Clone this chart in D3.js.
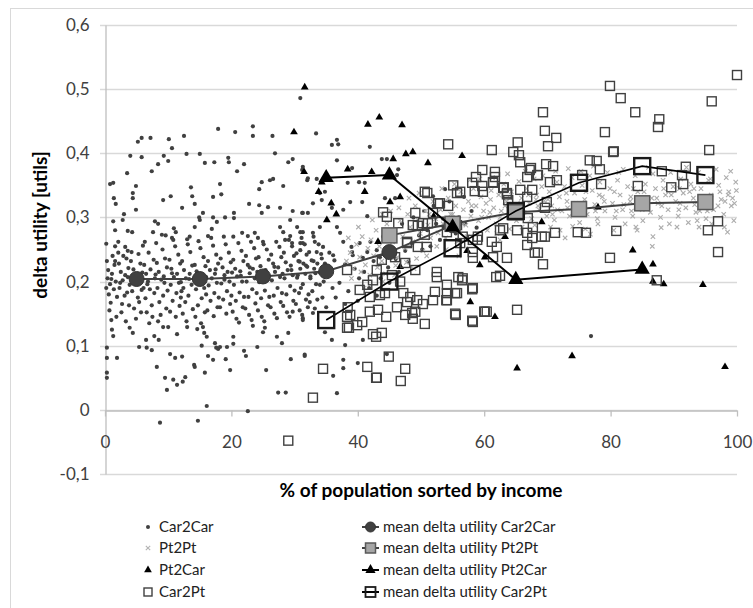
<!DOCTYPE html>
<html>
<head>
<meta charset="utf-8">
<script src="https://cdn.jsdelivr.net/npm/d3@7"></script>
<style>
body { margin: 0; background: #fff; }
text { font-family: Lato, "Open Sans", sans-serif; }
</style>
</head>
<body>
<div id="chart"></div>
<script>
// y axis ticks
const yTicks = [-0.1, 0, 0.1, 0.2, 0.3, 0.4, 0.5, 0.6]
const xTicks = [0, 20, 40, 60, 80, 100]

// scatter series [x %, delta utility]
const car2car = [
[17.9,.438],[20.6,.433],[23.4,.442],[23.4,.427],[26.5,.427],[12.5,.427],[7.2,.424],[5.8,.424],[5.2,.418],[10.1,.422],[10.6,.408],[4.0,.396],[5.8,.394],[9.3,.396],[10.0,.388],[12.9,.399],[15.0,.399],[8.4,.383],[7.4,.372],[3.5,.369],[15.8,.385],[17.3,.386],[19.5,.393],[19.6,.386],[20.9,.372],[22.0,.383],[26.9,.4],[29.0,.386],[29.7,.391],[0.8,.352],[1.3,.354],[4.9,.349],[1.4,.33],[1.7,.321],[4.4,.338],[4.4,.33],[4.9,.312],[9.2,.327],[10.4,.333],[12.2,.315],[13.6,.347],[13.8,.333],[14.2,.321],[17.1,.332],[18.2,.352],[18.4,.336],[24.4,.344],[24.8,.355],[26.1,.358],[26.6,.36],[28.2,.349],[22.8,.321],[24.4,.319],[25.8,.316],[24.8,.307],[27.7,.315],[29.7,.31],[31.3,.307],[32.0,.358],[1.3,.294],[2.8,.296],[3.0,.305],[1.6,.28],[7.9,.294],[8.4,.29],[3.6,.279],[4.3,.277],[0.2,.259],[1.6,.255],[3.2,.254],[2.1,.245],[14.9,.3],[15.0,.296],[15.5,.307],[17.1,.3],[17.7,.293],[19.0,.3],[20.4,.299],[20.4,.307],[14.2,.285],[16.9,.282],[7.6,.277],[9.0,.273],[10.9,.283],[11.2,.277],[13.4,.27],[10.6,.268],[16.3,.271],[20.3,.27],[21.7,.276],[22.6,.271],[23.7,.276],[24.2,.268],[25.0,.262],[27.7,.285],[28.2,.277],[29.3,.296],[30.4,.285],[30.9,.277],[29.3,.271],[28.5,.265],[29.6,.26],[30.9,.26],[31.3,.26],
[30.9,.486],[33.4,.431],[35.9,.413],[36.7,.421],[36.9,.414],[41.9,.41],[36.7,.389],[43.8,.391],[44.6,.391],[39.1,.377],[31.3,.379],[31.2,.374],[33.5,.36],[32.1,.361],[38.4,.354],[40.2,.355],[41.1,.354],[46.4,.375],[46.2,.366],[34.0,.338],[34.8,.34],[32.9,.322],[32.1,.307],[31.2,.307],[34.3,.327],[35.9,.315],[37.7,.312],[38.8,.324],[40.7,.324],[41.5,.302],[44.3,.33],[45.9,.33],[53.8,.344],[51.9,.333],[31.3,.277],[32.9,.276],[34.0,.285],[33.2,.262],[36.7,.285],[37.2,.276],[30.9,.249],[33.5,.246],[36.1,.241],[34.5,.254],[39.1,.246],[37.7,.262],[40.3,.26],[39.2,.241],[41.5,.246],[43.0,.249],[43.5,.238],[40.8,.237],
[38.0,.227],[39.5,.22],[41.0,.215],[42.5,.232],[40.2,.205],[37.1,.198],[36.0,.19],[38.5,.185],[41.8,.19],[43.6,.205],[44.8,.222],[46.0,.235],[47.5,.248],[48.5,.26],[49.7,.272],[51.0,.28],[52.4,.29],[53.5,.298],[50.2,.25],[48.0,.231],[46.5,.215],[45.0,.198],[43.0,.178],[40.0,.17],[38.0,.165],[36.5,.175],[35.0,.16],[33.6,.172],[32.2,.18],[31.0,.19],[34.0,.195],[32.5,.205],[30.5,.21],[31.8,.225],[33.0,.232],[36.3,.233],[35.5,.245],[39.0,.254],[42.0,.262],[44.0,.27],[45.5,.279],[47.0,.29],[48.8,.3],[50.5,.31],[52.0,.318],[54.5,.325],[56.0,.3],[57.0,.29],[58.0,.31],[55.5,.275],[53.0,.265],[51.5,.255],[56.8,.332],[58.8,.284],[76.9,.115],
[8.7,-.02],[14.7,-.017],[16.1,.006],[22.6,-.002],[27.4,.027],[28.6,.027],[0.3,.058],[0.3,.05],[9.5,.05],[10.8,.047],[11.4,.039],[12.3,.044],[12.7,.051],[9.8,.031],[8.2,.067],[14.1,.07],[14.2,.067],[15.8,.058],[19.8,.062],[25.5,.062],[0.3,.081],[1.9,.081],[10.3,.087],[11.1,.081],[12.2,.083],[16.3,.084],[17.1,.078],[19.1,.079],[22.0,.092],[22.3,.084],[29.4,.079],[31.6,.084],[0.3,.097],[5.4,.098],[6.6,.097],[7.4,.093],[15.3,.1],[17.4,.104],[17.6,.097],[17.9,.095],[18.2,.098],[19.3,.098],[20.3,.103],[24.1,.098],[20.3,.114],[27.2,.114],[28.0,.104],[29.0,.12],[1.1,.125],[1.3,.115],[6.5,.109],[7.8,.115],[8.5,.109],[11.4,.118],[13.0,.129],[14.6,.126],[15.5,.129],[15.7,.12],[16.1,.114],[9.2,.129],[10.0,.129],[23.4,.131],[25.0,.121],[25.3,.128],[31.3,.143],[29.7,.153],
[31.6,.086],[37.7,.078],[37.7,.065],[36.1,.053],[36.7,.026],[38.0,.101],[40.0,.073],[40.8,.109],[44.6,.087],[34.8,.121],[35.9,.109],[31.3,.14],[32.9,.151],[32.1,.16],
[0.3,.232],[0.5,.218],[0.4,.205],[0.8,.196],[0.6,.18],[0.9,.167],[1.2,.24],[1.5,.226],[1.1,.212],[1.7,.2],[1.4,.188],[1.9,.176],[0.7,.155],[1.8,.145],[1.0,.14],[1.6,.232],[0.2,.19],
[2.2,.228],[2.5,.215],[2.8,.202],[2.3,.19],[3.1,.178],[2.7,.165],[3.4,.236],[3.7,.221],[3.2,.21],[3.9,.195],[3.5,.183],[2.6,.152],[3.8,.163],[2.9,.24],[3.6,.248],[2.1,.262],[3.3,.138],[3.9,.128],
[4.1,.232],[4.5,.219],[4.8,.207],[4.3,.185],[5.2,.175],[5.6,.228],[5.9,.214],[5.0,.196],[5.4,.168],[4.6,.158],[5.8,.187],[4.2,.246],[5.3,.243],[5.7,.152],[4.9,.142],[6.0,.256],[4.4,.12],
[6.2,.226],[6.5,.212],[6.8,.2],[7.1,.188],[6.4,.174],[7.4,.163],[7.7,.234],[7.2,.219],[6.9,.245],[7.9,.205],[6.6,.152],[7.5,.145],[6.3,.262],[7.8,.182],[7.0,.135],[6.1,.19],
[8.2,.229],[8.5,.215],[8.9,.203],[8.3,.19],[9.2,.178],[9.5,.236],[9.8,.222],[9.1,.25],[8.6,.168],[9.7,.158],[8.8,.148],[9.4,.198],[9.9,.186],[8.1,.26],[9.6,.272],[8.4,.138],
[10.2,.234],[10.5,.22],[10.9,.207],[10.4,.195],[11.3,.182],[11.6,.242],[11.9,.228],[11.1,.255],[10.7,.17],[11.8,.162],[10.3,.153],[11.4,.212],[11.7,.198],[10.8,.265],[11.2,.145],[12.0,.175],
[12.2,.232],[12.5,.218],[12.8,.205],[12.4,.19],[13.2,.178],[13.5,.246],[13.8,.225],[13.1,.258],[12.7,.168],[13.9,.157],[12.3,.15],[13.4,.212],[13.7,.195],[12.9,.138],[13.0,.266],[12.1,.185],
[14.2,.226],[14.6,.213],[14.9,.2],[14.4,.188],[15.3,.174],[15.6,.238],[15.9,.224],[15.1,.252],[14.7,.163],[15.8,.152],[14.3,.145],[15.4,.206],[15.7,.19],[14.8,.263],[15.2,.135],[16.0,.18],
[16.3,.232],[16.6,.218],[16.9,.205],[16.4,.194],[17.3,.182],[17.6,.242],[17.9,.228],[17.1,.256],[16.7,.17],[17.8,.16],[16.2,.155],[17.4,.212],[17.7,.198],[16.8,.268],[17.2,.146],[18.0,.175],
[18.3,.236],[18.6,.222],[18.9,.21],[18.4,.197],[19.3,.185],[19.6,.245],[19.9,.23],[19.1,.258],[18.7,.172],[19.8,.165],[18.2,.16],[19.4,.215],[19.7,.2],[18.8,.27],[19.2,.15],[20.0,.178],
[20.3,.234],[20.6,.22],[20.9,.208],[20.4,.195],[21.3,.183],[21.6,.248],[21.9,.232],[21.1,.26],[20.7,.17],[21.8,.16],[20.2,.153],[21.4,.216],[21.7,.2],[20.8,.142],[21.2,.136],[22.0,.176],
[22.3,.24],[22.6,.226],[22.9,.213],[22.4,.2],[23.3,.188],[23.6,.252],[23.9,.236],[23.1,.262],[22.7,.176],[23.8,.166],[22.2,.158],[23.4,.22],[23.7,.205],[22.8,.148],[23.2,.14],[24.0,.182],
[24.3,.238],[24.6,.224],[24.9,.211],[24.4,.199],[25.3,.186],[25.6,.25],[25.9,.234],[25.1,.258],[24.7,.174],[25.8,.163],[24.2,.155],[25.4,.218],[25.7,.203],[24.8,.145],[25.2,.138],[26.0,.176],
[26.3,.242],[26.6,.228],[26.9,.215],[26.4,.202],[27.3,.19],[27.6,.254],[27.9,.238],[27.1,.262],[26.7,.178],[27.8,.168],[26.2,.16],[27.4,.222],[27.7,.207],[26.8,.15],[27.2,.143],[28.0,.182],
[28.3,.245],[28.6,.23],[28.9,.218],[28.4,.205],[29.3,.193],[29.6,.255],[29.9,.24],[29.1,.265],[28.7,.18],[29.8,.17],[28.2,.162],[29.4,.225],[29.7,.21],[28.8,.152],[29.2,.145],[30.0,.186],
[30.3,.244],[30.6,.232],[30.9,.22],[30.4,.206],[31.3,.196],[31.6,.258],[31.9,.242],[31.1,.268],[30.7,.182],[31.8,.172],[30.2,.165],[31.4,.228],[31.7,.212],[30.8,.155],[31.2,.148],
[32.3,.246],[32.7,.233],[33.1,.22],[32.5,.208],[33.4,.196],[33.8,.258],[34.2,.243],[33.0,.27],[32.8,.185],[34.4,.175],[32.4,.168],[33.6,.228],[34.0,.214],[33.2,.158],[34.6,.2],[34.8,.228],
[1.0,.204],[2.4,.198],[3.6,.207],[5.1,.21],[6.7,.196],[8.0,.211],[9.3,.208],[10.6,.213],[12.0,.199],[13.3,.204],[14.5,.216],[16.0,.207],[17.5,.219],[18.9,.203],[20.1,.214],[21.5,.209],[22.9,.222],[24.1,.215],[25.5,.207],[26.8,.223],[28.1,.212],[29.5,.218],[30.8,.231],[32.0,.223],[33.3,.213],[34.3,.236]
]

const pt2pt = [
[38.2,.232],[38.8,.245],[39.3,.22],[39.8,.258],[40.3,.238],[40.7,.27],[41.2,.226],[41.6,.252],[42.1,.265],[42.5,.24],[42.9,.28],[43.4,.255],[43.8,.232],[44.2,.27],[44.6,.29],[45.0,.248],[39.0,.205],[40.5,.215],[41.9,.21],[43.1,.222],[44.4,.212],[38.5,.268],[40.1,.285],[42.3,.296],[43.9,.305],[45.2,.31],[41.0,.19],[44.0,.2],
[45.5,.262],[45.9,.28],[46.3,.238],[46.7,.295],[47.1,.27],[47.5,.252],[47.9,.305],[48.3,.285],[48.7,.262],[49.1,.318],[49.5,.296],[49.9,.275],[50.3,.248],[50.7,.31],[51.1,.288],[51.5,.268],[51.9,.325],[46.0,.225],[47.7,.23],[49.3,.236],[50.9,.24],[46.5,.315],[48.1,.33],[49.7,.338],[51.3,.305],[45.8,.21],[48.9,.22],
[52.3,.298],[52.7,.276],[53.1,.312],[53.5,.29],[53.9,.268],[54.3,.33],[54.7,.305],[55.1,.282],[55.5,.318],[55.9,.296],[56.3,.34],[56.7,.312],[57.1,.288],[57.5,.325],[57.9,.302],[58.3,.345],[58.7,.318],[59.1,.295],[59.5,.332],[59.9,.31],[52.5,.255],[54.0,.25],[55.7,.262],[57.3,.27],[58.9,.275],[53.3,.345],[55.3,.352],[57.7,.358],[59.3,.36],[56.0,.24],
[60.3,.322],[60.7,.3],[61.1,.342],[61.5,.315],[61.9,.29],[62.3,.335],[62.7,.31],[63.1,.352],[63.5,.325],[63.9,.302],[64.3,.34],[64.7,.318],[65.1,.295],[65.5,.356],[65.9,.33],[66.3,.308],[66.7,.345],[67.1,.322],[67.5,.298],[67.9,.36],[68.3,.335],[68.7,.312],[69.1,.348],[69.5,.326],[69.9,.302],[60.5,.28],[62.0,.275],[64.0,.282],[66.0,.285],[68.0,.288],[61.3,.362],[63.7,.368],[66.5,.372],[69.3,.365],[62.5,.265],[67.2,.278],
[70.3,.34],[70.7,.318],[71.1,.296],[71.5,.355],[71.9,.332],[72.3,.31],[72.7,.348],[73.1,.325],[73.5,.302],[73.9,.362],[74.3,.338],[74.7,.315],[75.1,.292],[75.5,.35],[75.9,.328],[76.3,.305],[76.7,.365],[77.1,.342],[77.5,.32],[77.9,.298],[78.3,.355],[78.7,.332],[79.1,.31],[79.5,.37],[79.9,.345],[70.5,.285],[72.0,.28],[74.0,.286],[76.0,.282],[78.0,.29],[71.3,.372],[73.3,.376],[75.3,.372],[77.3,.38],[72.8,.268],[76.8,.274],
[80.3,.322],[80.7,.3],[81.1,.358],[81.5,.335],[81.9,.312],[82.3,.29],[82.7,.348],[83.1,.325],[83.5,.302],[83.9,.365],[84.3,.34],[84.7,.318],[85.1,.295],[85.5,.352],[85.9,.33],[86.3,.308],[86.7,.368],[87.1,.345],[87.5,.322],[87.9,.3],[88.3,.358],[88.7,.335],[89.1,.312],[89.5,.37],[89.9,.348],[80.5,.28],[82.0,.375],[84.0,.285],[86.0,.378],[88.0,.284],[86.7,.27],[86.6,.255],[84.2,.28],[81.3,.37],[83.3,.31],[85.3,.34],[87.3,.33],[89.3,.29],
[90.3,.325],[90.7,.302],[91.1,.36],[91.5,.338],[91.9,.315],[92.3,.292],[92.7,.352],[93.1,.33],[93.5,.308],[93.9,.37],[94.3,.345],[94.7,.322],[95.1,.298],[95.5,.358],[95.9,.335],[96.3,.312],[96.7,.375],[97.1,.35],[97.5,.328],[97.9,.305],[98.3,.362],[98.7,.34],[99.1,.318],[99.5,.295],[99.8,.355],[90.5,.285],[92.0,.378],[94.0,.285],[96.0,.29],[98.0,.285],[99.0,.372],[90.9,.345],[93.3,.32],[95.3,.31],[97.3,.34],[99.3,.33],[98.5,.277],[95.8,.36],[93.7,.295],
[55.0,.305],[56.5,.29],[58.0,.318],[59.6,.3],[61.0,.328],[62.5,.3],[64.1,.33],[65.6,.312],[67.0,.335],[68.5,.318],[70.1,.328],[71.6,.312],[73.0,.338],[74.5,.322],[76.1,.34],[77.6,.31],[79.0,.325],[80.6,.34],[82.1,.32],[83.6,.345],[85.0,.312],[86.5,.33],[88.1,.318],[89.6,.335],[91.0,.322],[92.5,.34],[94.1,.31],[95.6,.328],[97.0,.318],[98.6,.335],[99.6,.322],
[60.9,.308],[63.3,.318],[65.8,.322],[68.2,.328],[70.8,.305],[73.2,.315],[75.7,.312],[78.2,.335],[80.9,.31],[83.2,.332],[85.7,.325],[88.4,.345],[90.8,.312],[93.2,.345],[95.7,.318],[98.1,.325],[99.9,.342]
]

const pt2car = [
[31.6,.503],[41.6,.445],[43.4,.456],[47.0,.444],[45.6,.391],[47.6,.399],[48.7,.402],[56.5,.396],[51.1,.385],[31.5,.371],[42.2,.371],[41.1,.34],[35.8,.322],[36.6,.305],[35.1,.296],[45.1,.324],[46.7,.332],[43.2,.262],[69.1,.293],[63.3,.27],[29.9,.433],[46.7,.223],[57.8,.168],[61.7,.145],[60.1,.238],[59.3,.226],[78.0,.316],[83.5,.249],[86.7,.227],[86.7,.2],[88.4,.196],[94.6,.195],[65.2,.065],[73.9,.084],[98.1,.067],[52.0,.302],[57.3,.248],[38.4,.375],[33.8,.34],[34.3,.355]
]

const car2pt = [
[100,.522],[79.9,.505],[81.6,.486],[96.0,.481],[83.9,.464],[69.3,.464],[87.7,.453],[87.5,.441],[69.6,.435],[71.4,.424],[70.1,.411],[65.3,.417],[64.6,.402],[65.5,.397],[65.7,.386],[79.1,.433],[80.5,.403],[95.6,.405],[76.7,.389],[77.8,.388],[78.3,.375],[67.4,.377],[66.8,.363],[68.5,.366],[69.8,.383],[70.9,.38],[70.4,.355],[71.5,.358],[75.5,.366],[78.5,.352],[84.3,.349],[88.1,.372],[91.3,.366],[91.9,.379],[91.5,.352],[89.6,.347],[63.0,.346],[63.6,.338],[65.7,.343],[66.8,.332],[69.9,.324],[66.9,.299],[69.6,.315],[97.0,.294],[95.4,.28],[74.8,.277],[76.1,.276],[80.9,.279],[66.8,.276],[65.2,.28],[63.0,.283],[67.6,.268],[69.6,.27],[71.2,.276],[63.6,.237],[68.0,.245],[68.5,.245],[69.3,.227],[79.9,.237],[97.0,.246],[87.3,.202],[80.4,.402],[61.7,.371],[61.7,.363],[61.4,.355],[63.1,.347],[59.8,.34],[63.6,.336],[61.9,.207],[62.5,.209],[60.1,.153],[65.2,.156],[54.1,.182],[54.1,.171],[55.4,.182],[56.5,.202],[58.1,.188],[55.5,.148],[58.1,.139],[60.0,.153],[60.4,.153],
[29.0,-.048],[32.9,.019],[34.5,.064],[41.5,.067],[42.9,.05],[43.0,.05],[46.8,.045],[47.5,.064],[44.9,.083],[38.6,.128],[39.9,.132],[40.7,.137],[42.4,.118],[43.8,.12],[42.9,.114],
[40.3,.187],[41.9,.176],[43.5,.179],[41.5,.195],[42.4,.202],[45.4,.21],[46.7,.2],[47.2,.182],[48.3,.176],[49.4,.171],[47.8,.168],[46.2,.16],[52.5,.215],[52.5,.207],[54.1,.195],[55.9,.207],[56.6,.205],[55.7,.182],[52.2,.184],[51.9,.171],[54.0,.171],[55.4,.15],[58.2,.19],[58.2,.137],
[51.0,.338],[53.0,.322],[55.1,.35],[55.7,.338],[58.5,.341],[61.4,.354],[54.3,.318],[44.0,.308],[44.6,.301],[46.4,.291],[49.1,.307],[48.7,.288],[50.3,.291],[51.1,.291],[47.8,.26],[49.5,.254],[50.9,.254],[51.9,.307],[53.0,.293],[55.7,.288],[56.6,.27],[58.2,.265],[59.0,.27],[58.2,.246],[62.0,.254],
[38.8,.148],[41.9,.153],[43.2,.156],[44.5,.145],[47.5,.148],[48.6,.151],[48.7,.142],[50.6,.134],[49.1,.153],[50.3,.165],[44.3,.182],[43.0,.218],[43.8,.234],[47.5,.229],[49.1,.218],[45.9,.238],[38.3,.128],[38.3,.145],[38.4,.16],[38.3,.218],
[54.3,.414],[61.2,.405],[59.7,.374],[58.7,.363],[58.1,.354],[59.7,.349],[63.8,.327],[67.2,.374],[68.4,.366],[67.6,.343],[56.2,.34],[50.6,.34],[52.7,.322],[49.5,.287],[47.8,.262],[50.6,.273],[54.1,.277],[56.2,.26],[58.9,.265],[61.2,.262],[62.5,.28],[67.7,.285],[69.1,.27],[66.8,.257],[61.4,.238],[58.2,.237]
]

// means per income decile
const car2carMeanX = [5, 15, 25, 35, 45, 55]
const car2carMeanY = [0.204, 0.204, 0.208, 0.216, 0.246, 0.288]
const pt2ptMeanX = [45, 55, 65, 75, 85, 95]
const pt2ptMeanY = [0.272, 0.29, 0.308, 0.313, 0.322, 0.324]
const pt2carMeanX = [35, 45, 55, 65, 85]
const pt2carMeanY = [0.362, 0.366, 0.285, 0.203, 0.219]
const car2ptMeanX = [35, 45, 55, 65, 75, 85, 95]
const car2ptMeanY = [0.14, 0.2, 0.252, 0.31, 0.354, 0.38, 0.366]

const W = 753, H = 608
const svg = d3.select("#chart").append("svg")
  .attr("width", W)
  .attr("height", H)

// outer chart border
svg.append("rect")
  .attr("x", 10.5).attr("y", 8.5)
  .attr("width", 760).attr("height", 620)
  .attr("fill", "none")
  .attr("stroke", "#d9d9d9")

const x = d3.scaleLinear().domain([0, 100]).range([105, 737])
const y = d3.scaleLinear().domain([-0.1, 0.6]).range([474, 25])
const fmt = d => d === 0 ? "0" : d.toFixed(1).replace(".", ",")

// horizontal gridlines
svg.selectAll("line.grid")
  .data(yTicks)
  .enter().append("line")
  .attr("class", "grid")
  .attr("x1", 100).attr("x2", x(100))
  .attr("y1", d => Math.round(y(d)) + 0.5)
  .attr("y2", d => Math.round(y(d)) + 0.5)
  .style("stroke", "#d9d9d9")
  .style("stroke-width", 1.3)

// y axis
svg.append("g")
  .attr("transform", "translate(105.5,0)")
  .call(d3.axisLeft(y).tickValues(yTicks).tickFormat(fmt).tickSize(0).tickPadding(16))
  .call(g => g.select(".domain").attr("stroke", "#bfbfbf").attr("stroke-width", 1.3))
  .selectAll("text")
  .style("font-size", "17px")
  .style("fill", "#404040")

// x axis on the zero line
svg.append("g")
  .attr("transform", "translate(0," + (Math.round(y(0)) + 0.5) + ")")
  .call(d3.axisBottom(x).tickValues(xTicks).tickFormat(d3.format("d")).tickSizeInner(6).tickSizeOuter(0).tickPadding(19))
  .call(g => g.select(".domain").attr("stroke", "#bfbfbf").attr("stroke-width", 1.3))
  .call(g => g.selectAll(".tick line").attr("stroke", "#bfbfbf").attr("stroke-width", 1.3))
  .selectAll("text")
  .style("font-size", "17px")
  .style("fill", "#404040")

const tri = d3.symbol().type(d3.symbolTriangle)
const cross = "M-2.2,-2.2L2.2,2.2M-2.2,2.2L2.2,-2.2"

// scatter: Car2Car dots
svg.append("g").selectAll("circle")
  .data(car2car)
  .enter().append("circle")
  .attr("cx", d => x(d[0]))
  .attr("cy", d => y(d[1]))
  .attr("r", 2.1)
  .style("fill", "#404040")

// Pt2Pt crosses
svg.append("g").selectAll("path")
  .data(pt2pt)
  .enter().append("path")
  .attr("transform", d => "translate(" + x(d[0]) + "," + y(d[1]) + ")")
  .attr("d", cross)
  .style("stroke", "#adadad")
  .style("stroke-width", 1.1)

// Pt2Car triangles
svg.append("g").selectAll("path")
  .data(pt2car)
  .enter().append("path")
  .attr("transform", d => "translate(" + x(d[0]) + "," + y(d[1]) + ")")
  .attr("d", tri.size(26))
  .style("fill", "#000")

// Car2Pt open squares
svg.append("g").selectAll("rect")
  .data(car2pt)
  .enter().append("rect")
  .attr("x", d => x(d[0]) - 4.5)
  .attr("y", d => y(d[1]) - 4.5)
  .attr("width", 9).attr("height", 9)
  .style("fill", "none")
  .style("stroke", "#404040")
  .style("stroke-width", 1.4)

const line = d3.line().x(d => x(d[0])).y(d => y(d[1]))
const zip = (a, b) => a.map((v, i) => [v, b[i]])

// mean Car2Car
const c2cM = zip(car2carMeanX, car2carMeanY)
svg.append("path").datum(c2cM)
  .attr("d", line).attr("fill", "none")
  .style("stroke", "#404040").style("stroke-width", 2)
svg.append("g").selectAll("circle")
  .data(c2cM)
  .enter().append("circle")
  .attr("cx", d => x(d[0])).attr("cy", d => y(d[1]))
  .attr("r", 7.5)
  .style("fill", "#404040").style("stroke", "#333").style("stroke-width", 1)

// mean Pt2Pt
const p2pM = zip(pt2ptMeanX, pt2ptMeanY)
svg.append("path").datum(p2pM)
  .attr("d", line).attr("fill", "none")
  .style("stroke", "#404040").style("stroke-width", 2)
svg.append("g").selectAll("rect")
  .data(p2pM)
  .enter().append("rect")
  .attr("x", d => x(d[0]) - 7.5).attr("y", d => y(d[1]) - 7.5)
  .attr("width", 15).attr("height", 15)
  .style("fill", "#a6a6a6").style("stroke", "#595959").style("stroke-width", 1.5)

// mean Pt2Car
const p2cM = zip(pt2carMeanX, pt2carMeanY)
svg.append("path").datum(p2cM)
  .attr("d", line).attr("fill", "none")
  .style("stroke", "#000").style("stroke-width", 2)
svg.append("g").selectAll("path")
  .data(p2cM)
  .enter().append("path")
  .attr("transform", d => "translate(" + x(d[0]) + "," + y(d[1]) + ")")
  .attr("d", tri.size(100))
  .style("fill", "#000")

// mean Car2Pt
const c2pM = zip(car2ptMeanX, car2ptMeanY)
svg.append("path").datum(c2pM)
  .attr("d", line).attr("fill", "none")
  .style("stroke", "#000").style("stroke-width", 1.6)
svg.append("g").selectAll("rect")
  .data(c2pM)
  .enter().append("rect")
  .attr("x", d => x(d[0]) - 8).attr("y", d => y(d[1]) - 8)
  .attr("width", 16).attr("height", 16)
  .style("fill", "none").style("stroke", "#1a1a1a").style("stroke-width", 2.4)

// axis titles
svg.append("text")
  .attr("transform", "translate(47,225) rotate(-90)")
  .attr("text-anchor", "middle")
  .style("font-size", "19px").style("font-weight", "bold")
  .text("delta utility [utils]")
svg.append("text")
  .attr("x", 421).attr("y", 497)
  .attr("text-anchor", "middle")
  .style("font-size", "19px").style("font-weight", "bold")
  .text("% of population sorted by income")

// legend
const rows = [532, 553, 575, 597]
const leftNames = ["Car2Car", "Pt2Pt", "Pt2Car", "Car2Pt"]
const rightNames = ["mean delta utility Car2Car", "mean delta utility Pt2Pt", "mean delta utility Pt2Car", "mean delta utility Car2Pt"]
const lg = svg.append("g")

lg.append("circle").attr("cx", 148).attr("cy", rows[0] - 5).attr("r", 2).style("fill", "#404040")
lg.append("path").attr("transform", "translate(148," + (rows[1] - 5) + ")").attr("d", cross).style("stroke", "#b3b3b3").style("stroke-width", 1.1)
lg.append("path").attr("transform", "translate(148," + (rows[2] - 5) + ")").attr("d", tri.size(26)).style("fill", "#000")
lg.append("rect").attr("x", 144).attr("y", rows[3] - 9).attr("width", 8).attr("height", 8).style("fill", "none").style("stroke", "#404040").style("stroke-width", 1.4)

lg.selectAll("text.left")
  .data(leftNames)
  .enter().append("text")
  .attr("class", "left")
  .attr("x", 159).attr("y", (d, i) => rows[i])
  .style("font-size", "15px").style("fill", "#222")
  .text(d => d)

rows.forEach((r, i) => {
  lg.append("line").attr("x1", 362).attr("x2", 379).attr("y1", r - 5).attr("y2", r - 5)
    .style("stroke", i === 2 || i === 3 ? "#000" : "#404040").style("stroke-width", 2)
})
lg.append("circle").attr("cx", 370.5).attr("cy", rows[0] - 5).attr("r", 5).style("fill", "#404040").style("stroke", "#333")
lg.append("rect").attr("x", 365.5).attr("y", rows[1] - 10).attr("width", 10).attr("height", 10).style("fill", "#a6a6a6").style("stroke", "#595959").style("stroke-width", 1.5)
lg.append("path").attr("transform", "translate(370.5," + (rows[2] - 5) + ")").attr("d", tri.size(45)).style("fill", "#000")
lg.append("rect").attr("x", 365.5).attr("y", rows[3] - 10).attr("width", 10).attr("height", 10).style("fill", "none").style("stroke", "#1a1a1a").style("stroke-width", 1.8)

lg.selectAll("text.right")
  .data(rightNames)
  .enter().append("text")
  .attr("class", "right")
  .attr("x", 383).attr("y", (d, i) => rows[i])
  .style("font-size", "15px").style("fill", "#222")
  .text(d => d)
</script>
</body>
</html>
